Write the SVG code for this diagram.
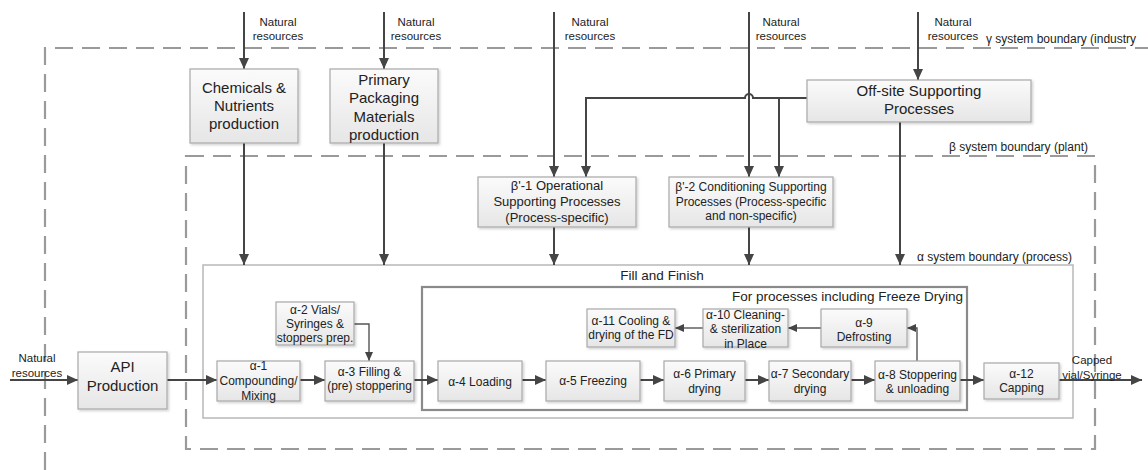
<svg xmlns="http://www.w3.org/2000/svg" width="1148" height="470" viewBox="0 0 1148 470">
<style>
text{font-family:"Liberation Sans",Arial,sans-serif;fill:#222;text-anchor:middle}
.box{fill:url(#g);stroke:#a8a8a8;stroke-width:1.2;filter:url(#sh)}
.c{fill:none;stroke:#454545;stroke-width:2}
.t{fill:none;stroke:#555;stroke-width:1.4}
.dash{fill:none;stroke:#9a9a9a;stroke-width:2.2;stroke-dasharray:18 9}
.nr{font-size:11.5px}
.lg{font-size:15px}
.md{font-size:13px}
.sm{font-size:12px}
.lbl{font-size:12px;text-anchor:start}
</style>
<defs>
<linearGradient id="g" x1="0" y1="0" x2="0" y2="1"><stop offset="0" stop-color="#fbfbfb"/><stop offset="1" stop-color="#e6e6e6"/></linearGradient>
<filter id="sh" x="-10%" y="-10%" width="130%" height="140%"><feDropShadow dx="1.5" dy="1.5" stdDeviation="1" flood-color="#000" flood-opacity="0.18"/></filter>
<marker id="ah" markerUnits="userSpaceOnUse" markerWidth="11" markerHeight="10" refX="11" refY="5" orient="auto"><path d="M0,0 L11,5 L0,10 z" fill="#454545"/></marker>
<marker id="as" markerUnits="userSpaceOnUse" markerWidth="9" markerHeight="8" refX="9" refY="4" orient="auto"><path d="M0,0 L9,4 L0,8 z" fill="#454545"/></marker>
</defs>

<g id="boundaries">
<path class="dash" d="M45,470 L45,48 L1148,48"/>
<text class="lbl" x="986" y="43">γ system boundary (industry</text>
<path class="dash" d="M186,156 L1095,156 L1095,449 L186,449 Z"/>
<text class="lbl" x="949" y="151">β system boundary (plant)</text>
<rect x="203" y="265" width="870" height="153" fill="none" stroke="#b8b8b8" stroke-width="1.5"/>
<text class="lbl" x="917" y="261">α system boundary (process)</text>
<text x="662" y="280" font-size="13.5">Fill and Finish</text>
<rect x="422" y="287" width="545" height="123" fill="none" stroke="#8a8a8a" stroke-width="2.2"/>
<text x="963" y="301" font-size="13.5" style="text-anchor:end">For processes including Freeze Drying</text>
</g>

<g id="connectors">
<path class="c" d="M244,12 V69" marker-end="url(#ah)"/>
<path class="c" d="M384,12 V69" marker-end="url(#ah)"/>
<path class="c" d="M554,12 V177" marker-end="url(#ah)"/>
<path class="c" d="M749,12 V177" marker-end="url(#ah)"/>
<path class="c" d="M918,12 V80" marker-end="url(#ah)"/>
<path class="c" d="M807,98 H753 A4,4 0 0 0 745,98 H586 V177" marker-end="url(#ah)"/>
<path class="c" d="M779,98 V177" marker-end="url(#ah)"/>
<path class="c" d="M900,122 V265" marker-end="url(#ah)"/>
<path class="c" d="M244,143 V265" marker-end="url(#ah)"/>
<path class="c" d="M384,143 V265" marker-end="url(#ah)"/>
<path class="c" d="M554,227 V265" marker-end="url(#ah)"/>
<path class="c" d="M749,227 V265" marker-end="url(#ah)"/>
<path class="c" d="M10,380 H78" marker-end="url(#ah)"/>
<path class="c" d="M167,380 H217" marker-end="url(#ah)"/>
<path class="c" d="M300,380 H325" marker-end="url(#ah)"/>
<path class="t" d="M354,324 H369 V361" marker-end="url(#as)"/>
<path class="c" d="M414,380 H438" marker-end="url(#ah)"/>
<path class="c" d="M522,380 H546" marker-end="url(#ah)"/>
<path class="c" d="M640,380 H664" marker-end="url(#ah)"/>
<path class="c" d="M745,380 H769" marker-end="url(#ah)"/>
<path class="c" d="M851,380 H875" marker-end="url(#ah)"/>
<path class="c" d="M960,380 H984" marker-end="url(#ah)"/>
<path class="c" d="M1059,380 H1142" marker-end="url(#ah)"/>
<path class="t" d="M917,361 V328 H907" marker-end="url(#as)"/>
<path class="t" d="M821,328 H788" marker-end="url(#as)"/>
<path class="t" d="M703,328 H675" marker-end="url(#as)"/>
<g class="nr">
<text x="278" y="26">Natural</text><text x="278" y="40">resources</text>
<text x="416" y="26">Natural</text><text x="416" y="40">resources</text>
<text x="590" y="26">Natural</text><text x="590" y="40">resources</text>
<text x="781" y="26">Natural</text><text x="781" y="40">resources</text>
<text x="953" y="26">Natural</text><text x="953" y="40">resources</text>
<text x="37" y="362">Natural</text><text x="37" y="377">resources</text>
<text x="1092" y="364">Capped</text><text x="1092" y="379">vial/Syringe</text>
</g>
</g>

<g id="chemicals"><rect class="box" x="190" y="69" width="108" height="74"/>
<text class="lg" x="244" y="93">Chemicals &amp;</text><text class="lg" x="244" y="111">Nutrients</text><text class="lg" x="244" y="129">production</text></g>
<g id="packaging"><rect class="box" x="330" y="69" width="108" height="74"/>
<text class="lg" x="384" y="85">Primary</text><text class="lg" x="384" y="103">Packaging</text><text class="lg" x="384" y="122">Materials</text><text class="lg" x="384" y="140">production</text></g>
<g id="offsite"><rect class="box" x="807" y="80" width="224" height="42"/>
<text class="lg" x="919" y="96">Off-site Supporting</text><text class="lg" x="919" y="114">Processes</text></g>
<g id="beta1"><rect class="box" x="478" y="177" width="158" height="50"/>
<text class="md" x="557" y="190">β'-1 Operational</text><text class="md" x="557" y="206">Supporting Processes</text><text class="md" x="557" y="222">(Process-specific)</text></g>
<g id="beta2"><rect class="box" x="669" y="177" width="164" height="50"/>
<text class="sm" x="751" y="191">β'-2 Conditioning Supporting</text><text class="sm" x="751" y="206">Processes (Process-specific</text><text class="sm" x="751" y="220">and non-specific)</text></g>
<g id="api"><rect class="box" x="78" y="352" width="89" height="57"/>
<text class="lg" x="122.5" y="372">API</text><text class="lg" x="122.5" y="391">Production</text></g>
<g id="a1"><rect class="box" x="217" y="361" width="83" height="40"/>
<text class="sm" x="258.5" y="370">α-1</text><text class="sm" x="258.5" y="385">Compounding/</text><text class="sm" x="258.5" y="399.5">Mixing</text></g>
<g id="a2"><rect class="box" x="276" y="302" width="78" height="43"/>
<text class="sm" x="315" y="314">α-2 Vials/</text><text class="sm" x="315" y="328">Syringes &amp;</text><text class="sm" x="315" y="342">stoppers prep.</text></g>
<g id="a3"><rect class="box" x="325" y="361" width="89" height="40"/>
<text class="sm" x="369.5" y="376">α-3 Filling &amp;</text><text class="sm" x="369.5" y="390">(pre) stoppering</text></g>
<g id="a4"><rect class="box" x="438" y="361" width="84" height="40"/>
<text class="sm" x="480" y="386">α-4 Loading</text></g>
<g id="a5"><rect class="box" x="546" y="361" width="94" height="40"/>
<text class="sm" x="593" y="385">α-5 Freezing</text></g>
<g id="a6"><rect class="box" x="664" y="361" width="81" height="40"/>
<text class="sm" x="704.5" y="378">α-6 Primary</text><text class="sm" x="704.5" y="393">drying</text></g>
<g id="a7"><rect class="box" x="769" y="361" width="82" height="40"/>
<text class="sm" x="810" y="378">α-7 Secondary</text><text class="sm" x="810" y="393">drying</text></g>
<g id="a8"><rect class="box" x="875" y="361" width="85" height="40"/>
<text class="sm" x="917.5" y="379">α-8 Stoppering</text><text class="sm" x="917.5" y="393">&amp; unloading</text></g>
<g id="a12"><rect class="box" x="984" y="363" width="75" height="36"/>
<text class="sm" x="1021.5" y="378">α-12</text><text class="sm" x="1021.5" y="392">Capping</text></g>
<g id="a9"><rect class="box" x="821" y="309" width="86" height="38"/>
<text class="sm" x="864" y="327">α-9</text><text class="sm" x="864" y="341">Defrosting</text></g>
<g id="a10"><rect class="box" x="703" y="309" width="85" height="38"/>
<text class="sm" x="745.5" y="319">α-10 Cleaning-</text><text class="sm" x="745.5" y="333">&amp; sterilization</text><text class="sm" x="745.5" y="348">in Place</text></g>
<g id="a11"><rect class="box" x="587" y="309" width="88" height="38"/>
<text class="sm" x="631" y="325">α-11 Cooling &amp;</text><text class="sm" x="631" y="339">drying of the FD</text></g>
</svg>
